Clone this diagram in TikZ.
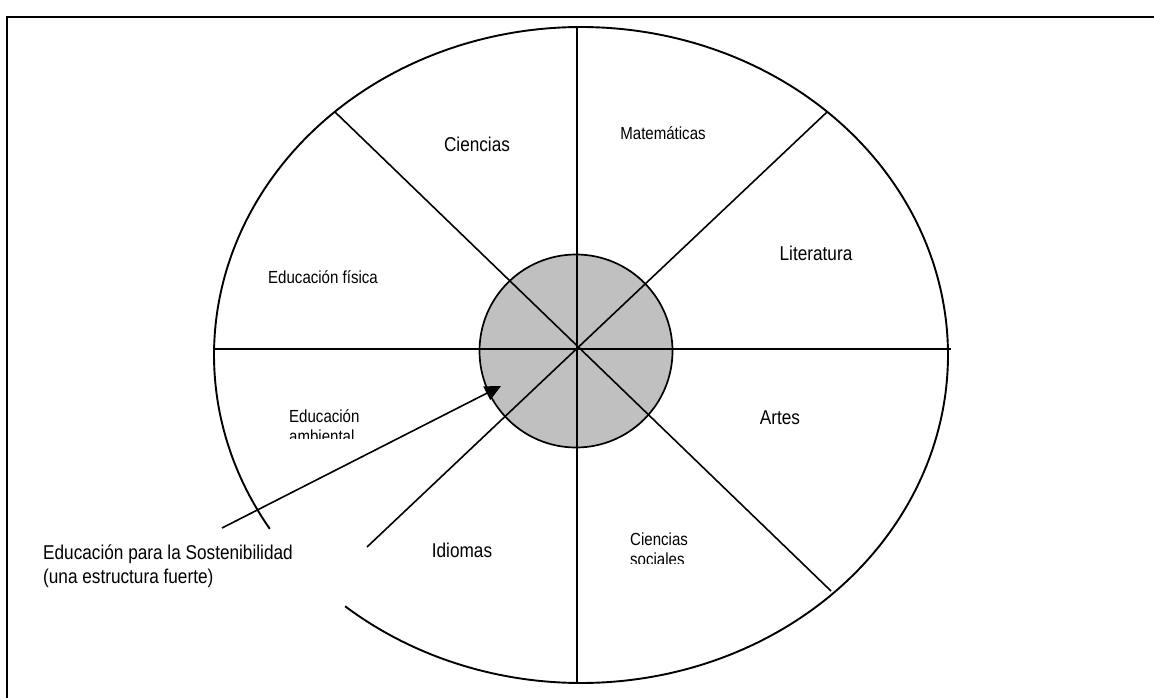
\documentclass[tikz,border=0pt]{standalone}
\usepackage{fontspec}
\setmainfont{Liberation Sans}[FakeStretch=0.86]
\usetikzlibrary{arrows.meta}
\definecolor{coregray}{RGB}{192,192,192}
\tikzset{
  spoke/.style={line width=1.6pt, black},
  rim/.style={line width=1.9pt, black},
  bigtxt/.style={font=\fontsize{20}{24}\selectfont, inner sep=0pt, anchor=base},
  smalltxt/.style={font=\fontsize{17.5}{20}\selectfont, inner sep=0pt, anchor=base},
}
\begin{document}
\begin{tikzpicture}[x=1pt,y=-1pt]
\useasboundingbox (0,0) rectangle (1154,698);
% frame
\draw[line width=2.2pt] (7,698) -- (7,17) -- (1154,17);
% outer ellipse (with gap lower left)
\draw[rim] plot[domain=148:490, samples=240, smooth] ({581+367*cos(\x)},{355+328*sin(\x)});
% core circle
\node[circle, draw, fill=coregray, minimum size=193pt, inner sep=0pt, line width=1.7pt] (core) at (576,351) {};
% spoke end points
\coordinate (top) at (577,27);
\coordinate (bot) at (577,683);
\coordinate (lft) at (215,349);
\coordinate (rgt) at (951,349);
\coordinate (ul) at (335,112);
\coordinate (lr) at (831,591);
\coordinate (ur) at (827,112);
\coordinate (ll) at (367,547);
\draw[spoke] (top) -- (bot);
\draw[spoke] (lft) -- (rgt);
\draw[spoke] (ul) -- (lr);
\draw[spoke] (ur) -- (ll);
% labels
\node[bigtxt] (cien) at (477,152) {Ciencias};
\node[smalltxt] (mate) at (663,140) {Matemáticas};
\node[bigtxt] (lite) at (816,260) {Literatura};
\node[smalltxt] (efis) at (323,283) {Educación física};
\node[bigtxt] (arte) at (780,424) {Artes};
\node[bigtxt] (idio) at (462,557) {Idiomas};
\begin{scope}
\clip (280,395) rectangle (380,438);
\node[smalltxt, anchor=base west] (eamb1) at (289,422) {Educación};
\node[smalltxt, anchor=base west] (eamb2) at (289,442) {ambiental};
\end{scope}
\begin{scope}
\clip (620,520) rectangle (720,563);
\node[smalltxt, anchor=base west] (csoc1) at (630,545) {Ciencias};
\node[smalltxt, anchor=base west] (csoc2) at (630,565) {sociales};
\end{scope}
\node[bigtxt, anchor=base west] (eds1) at (43,559) {Educación para la Sostenibilidad};
\node[bigtxt, anchor=base west] (eds2) at (43,583) {(una estructura fuerte)};
% arrow
\coordinate (arrS) at (222,528);
\coordinate (arrE) at (501,386);
\draw[line width=1.6pt, -{Triangle[length=16pt,width=15pt]}] (arrS) -- (arrE);
\end{tikzpicture}
\end{document}
